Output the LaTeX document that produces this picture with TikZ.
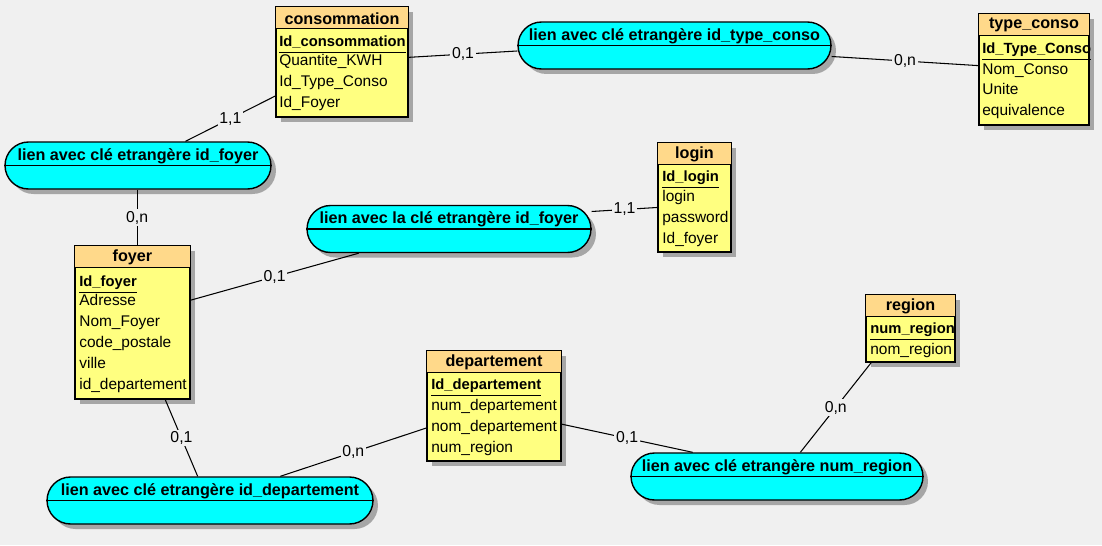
\documentclass[tikz,border=0pt]{standalone}
\usepackage{fontspec}
\setmainfont{Liberation Sans}
\usetikzlibrary{shadows}
\definecolor{fond}{HTML}{F0F0F0}
\definecolor{orangeclair}{HTML}{FFD98A}
\definecolor{jaune}{HTML}{FFFF80}
\definecolor{cyanlien}{HTML}{00FFFF}
\newcommand{\cleid}[1]{\underline{\raisebox{0pt}[\height][1.9pt]{#1}}}
\tikzset{
  ombre/.style={drop shadow={shadow xshift=0.1cm, shadow yshift=-0.1cm, fill=black!35, opacity=1}},
  entite/.style={draw, fill=jaune, line width=0.8pt, inner sep=0pt, ombre},
  entete/.style={draw, fill=orangeclair, line width=0.8pt},
  titre/.style={font=\bfseries\fontsize{9.2}{11}\selectfont},
  attr/.style={anchor=west, inner sep=0pt, text height=7pt, text depth=2pt, font=\fontsize{8.8}{11}\selectfont},
  cle/.style={anchor=west, inner sep=0pt, text height=7pt, text depth=2pt, font=\bfseries\fontsize{8.4}{11}\selectfont},
  relation/.style={draw, fill=cyanlien, rounded corners=0.47cm, minimum height=0.94cm, inner sep=0pt, line width=0.8pt, ombre},
  lien/.style={line width=0.6pt},
  card/.style={fill=fond, inner sep=1pt, font=\fontsize{9}{11}\selectfont},
}
\begin{document}
\begin{tikzpicture}[x=0.02cm, y=-0.02cm]
\fill[fond] (0,0) rectangle (1102,545);
\useasboundingbox (0,0) rectangle (1102,545);

% entites
\node[entite, minimum width=2.64cm, minimum height=2.2cm] (consommation) at (342,62) {}; % consommation
\draw[entete] (consommation.north west) rectangle ([yshift=-0.44cm]consommation.north east);
\node[titre] at ([yshift=-0.24cm]consommation.north) {consommation};
\node[cle] at (279,42) {\cleid{Id\_consommation}};
\node[attr] at (279,61) {Quantite\_KWH};
\node[attr] at (279,82) {Id\_Type\_Conso};
\node[attr] at (279,103) {Id\_Foyer};

\node[entite, minimum width=2.2cm, minimum height=2.22cm] (typeconso) at (1034,69.5) {}; % type_conso
\draw[entete] (typeconso.north west) rectangle ([yshift=-0.44cm]typeconso.north east);
\node[titre] at ([yshift=-0.24cm]typeconso.north) {type\_conso};
\node[cle] at (982,49) {\cleid{Id\_Type\_Conso}};
\node[attr] at (982,70) {Nom\_Conso};
\node[attr] at (982,90) {Unite};
\node[attr] at (982,111) {equivalence};

\node[entite, minimum width=1.46cm, minimum height=2.18cm] (login) at (694.5,197.5) {}; % login
\draw[entete] (login.north west) rectangle ([yshift=-0.44cm]login.north east);
\node[titre] at ([yshift=-0.24cm]login.north) {login};
\node[cle] at (662,177) {\cleid{Id\_login}};
\node[attr] at (662,197) {login};
\node[attr] at (662,218) {password};
\node[attr] at (662,239) {Id\_foyer};

\node[entite, minimum width=2.3cm, minimum height=3.06cm] (foyer) at (132.5,322.5) {}; % foyer
\draw[entete] (foyer.north west) rectangle ([yshift=-0.44cm]foyer.north east);
\node[titre] at ([yshift=-0.24cm]foyer.north) {foyer};
\node[cle] at (79,282) {\cleid{Id\_foyer}};
\node[attr] at (79,301) {Adresse};
\node[attr] at (79,322) {Nom\_Foyer};
\node[attr] at (79,343) {code\_postale};
\node[attr] at (79,364) {ville};
\node[attr] at (79,385) {id\_departement};

\node[entite, minimum width=2.68cm, minimum height=2.2cm] (departement) at (494,406) {}; % departement
\draw[entete] (departement.north west) rectangle ([yshift=-0.44cm]departement.north east);
\node[titre] at ([yshift=-0.24cm]departement.north) {departement};
\node[cle] at (431,385) {\cleid{Id\_departement}};
\node[attr] at (431,406) {num\_departement};
\node[attr] at (431,427) {nom\_departement};
\node[attr] at (431,448) {num\_region};

\node[entite, minimum width=1.78cm, minimum height=1.34cm] (region) at (910.5,328.5) {}; % region
\draw[entete] (region.north west) rectangle ([yshift=-0.44cm]region.north east);
\node[titre] at ([yshift=-0.24cm]region.north) {region};
\node[cle] at (870,329) {\cleid{num\_region}};
\node[attr] at (870,350) {nom\_region};

% relations
\node[relation, minimum width=6.26cm] (lnktype) at (674.5,45.5) {};
\draw[line width=0.8pt] (lnktype.west) -- (lnktype.east);
\node[titre] at ([yshift=0.19cm]lnktype.center) {lien avec clé etrangère id\_type\_conso};

\node[relation, minimum width=5.32cm] (lnkfoyer) at (138,165.5) {};
\draw[line width=0.8pt] (lnkfoyer.west) -- (lnkfoyer.east);
\node[titre] at ([yshift=0.19cm]lnkfoyer.center) {lien avec clé etrangère id\_foyer};

\node[relation, minimum width=5.68cm] (lnklogin) at (449,229) {};
\draw[line width=0.8pt] (lnklogin.west) -- (lnklogin.east);
\node[titre] at ([yshift=0.19cm]lnklogin.center) {lien avec la clé etrangère id\_foyer};

\node[relation, minimum width=6.52cm] (lnkdep) at (210,500.5) {};
\draw[line width=0.8pt] (lnkdep.west) -- (lnkdep.east);
\node[titre] at ([yshift=0.19cm]lnkdep.center) {lien avec clé etrangère id\_departement};

\node[relation, minimum width=5.84cm] (lnkreg) at (777,476.5) {};
\draw[line width=0.8pt] (lnkreg.west) -- (lnkreg.east);
\node[titre] at ([yshift=0.19cm]lnkreg.center) {lien avec clé etrangère num\_region};

% cardinalites
\draw[lien] (consommation.4) -- node[card] {0,1} (lnktype.182);
\draw[lien] (lnktype.-4) -- node[card] {0,n} (typeconso.176);
\draw[lien] (consommation.207) -- node[card] {1,1} (lnkfoyer.27);
\draw[lien] ([xshift=-0.5pt]lnkfoyer.south) -- node[card] {0,n} ([xshift=-0.5pt]lnkfoyer.south |- foyer.north);
\draw[lien] (foyer.21) -- node[card] {0,1} (lnklogin.195);
\draw[lien] (lnklogin.7) -- node[card] {1,1} (login.195);
\draw[lien] (foyer.-67) -- node[card] {0,1} (lnkdep.117);
\draw[lien] (lnkdep.19) -- node[card] {0,n} (departement.198);
\draw[lien] (departement.-15) -- node[card] {0,1} (lnkreg.164);
\draw[lien] (lnkreg.46) -- node[card] {0,n} (region.221);
\end{tikzpicture}
\end{document}
